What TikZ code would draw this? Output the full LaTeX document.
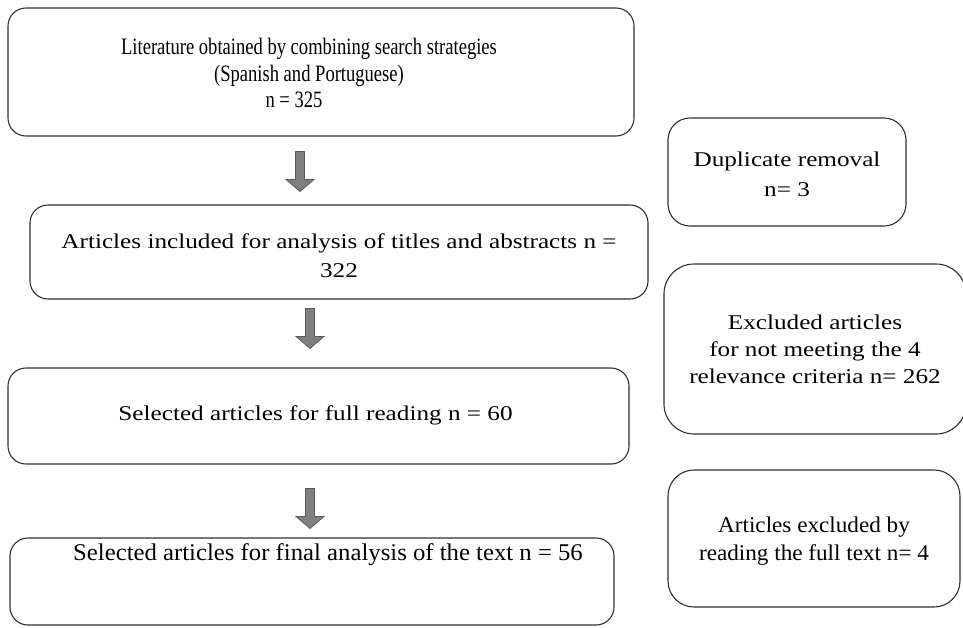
\documentclass[tikz,border=0pt]{standalone}
\usepackage{fontspec}
\setmainfont{Liberation Serif}
\newfontfamily\fwide[FakeStretch=1.2]{Liberation Serif}
\newfontfamily\fnarrow[FakeStretch=0.79]{Liberation Serif}
\newfontfamily\fmid[FakeStretch=1.03]{Liberation Serif}
\usetikzlibrary{calc}
\definecolor{arrowfill}{HTML}{808080}
\definecolor{arrowedge}{HTML}{595959}
\definecolor{boxedge}{HTML}{303030}
\tikzset{
  box/.style={draw=boxedge, line width=1.1pt, rounded corners=18pt, inner sep=0pt, fill=white},
  sidebox/.style={box, rounded corners=26pt},
  txt/.style={inner sep=0pt, align=center, text=black},
  barrow/.style={fill=arrowfill, draw=arrowedge, line width=0.8pt, line join=miter}
}
\newcommand{\blockarrow}[2]{%
  \draw[barrow] let \p1=(#1), \p2=(#2) in
    (\x1-4.5pt,\y1) -- (\x1+4.5pt,\y1) -- (\x1+4.5pt,\y2+12pt) -- (\x1+14pt,\y2+12pt)
    -- (\x1,\y2) -- (\x1-14pt,\y2+12pt) -- (\x1-4.5pt,\y2+12pt) -- cycle;}
\begin{document}
\begin{tikzpicture}[x=1pt,y=-1pt]
\useasboundingbox[fill=white] (0,0) rectangle (963,627);
% main column boxes
\node[box, minimum width=626pt, minimum height=128pt] (b1) at (321,72) {};
\node[box, minimum width=618pt, minimum height=94pt] (b2) at (339,252) {};
\node[box, minimum width=621pt, minimum height=96pt] (b3) at (318.5,416) {};
\node[box, minimum width=604pt, minimum height=87pt] (b4) at (312,581.5) {};
% side boxes
\node[sidebox, rounded corners=22pt, minimum width=238pt, minimum height=108pt] (d1) at (787,172) {};
\node[sidebox, rounded corners=30pt, minimum width=302pt, minimum height=170pt] (e1) at (815,349) {};
\node[sidebox, rounded corners=26pt, minimum width=292pt, minimum height=137pt] (e2) at (814,538.5) {};
% texts
\node[txt, font=\fnarrow\fontsize{23.5}{26.5}\selectfont] (t1) at ($(b1.north)+(-12,66)$)
  {Literature obtained by combining search strategies\\(Spanish and Portuguese)\\n = 325\hspace*{30pt}};
\node[txt, font=\fwide\fontsize{21}{29}\selectfont] (t2) at ($(b2.north)+(0,51)$)
  {Articles included for analysis of titles and abstracts n =\\322};
\node[txt, font=\fwide\fontsize{21}{29}\selectfont] (t3) at ($(b3.north)+(-3,48)$)
  {Selected articles for full reading n = 60};
\node[txt, font=\fmid\fontsize{24}{29}\selectfont] (t4) at ($(b4.north)+(16,17)$)
  {Selected articles for final analysis of the text n = 56};
\node[txt, font=\fwide\fontsize{21}{30}\selectfont] (td) at ($(d1.north)+(0,57)$)
  {Duplicate removal\\n= 3};
\node[txt, font=\fwide\fontsize{21}{27}\selectfont] (te1) at ($(e1.north)+(0,86)$)
  {Excluded articles\\for not meeting the 4\\relevance criteria n= 262};
\node[txt, font=\fmid\fontsize{22.5}{28}\selectfont] (te2) at ($(e2.north)+(0,72)$)
  {Articles excluded by\\reading the full text n= 4};
% block arrows
\coordinate (a1s) at ($(b1.south)+(-21,15)$);
\coordinate (a1e) at ($(b2.north)+(-39,-13)$);
\coordinate (a2s) at ($(b2.south)+(-29,9)$);
\coordinate (a2e) at ($(b3.north)+(-8.5,-19)$);
\coordinate (a3s) at ($(b3.south)+(-8.5,24)$);
\coordinate (a3e) at ($(b4.north)+(-2,-9)$);
\blockarrow{a1s}{a1e}
\blockarrow{a2s}{a2e}
\blockarrow{a3s}{a3e}
\end{tikzpicture}
\end{document}
